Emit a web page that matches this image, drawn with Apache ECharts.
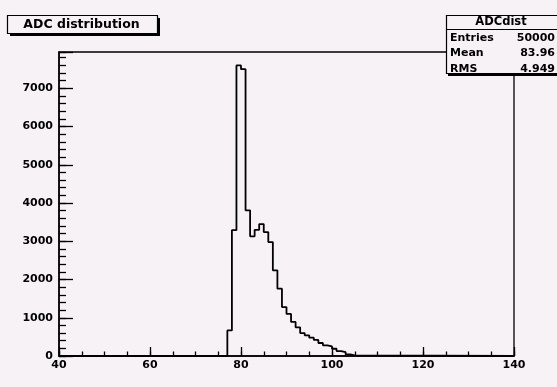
<!DOCTYPE html>
<html>
<head>
<meta charset="utf-8">
<script src="https://cdn.jsdelivr.net/npm/echarts@6/dist/echarts.min.js"></script>
<style>
html,body{margin:0;padding:0;background:#f6f2f6;}
#c{width:557px;height:387px;}
</style>
</head>
<body>
<div id="c"></div>
<script>
// Histogram "ADCdist": lower edges of non-empty bins (bin width 1) and counts
const binLow = [76, 77, 78, 79, 80, 81, 82, 83, 84, 85, 86, 87, 88, 89, 90, 91, 92, 93, 94, 95, 96, 97, 98, 99, 100, 101, 102, 103, 104];
const counts = [0, 670, 3290, 7600, 7500, 3810, 3130, 3300, 3450, 3240, 2980, 2240, 1760, 1280, 1100, 890, 750, 600, 540, 480, 420, 340, 280, 250, 190, 130, 100, 40, 15];
const binWidth = 1;
const xRange = [40, 140];
const yRange = [0, 7950];
const xTicks = [40, 60, 80, 100, 120, 140];
const yTicks = [0, 1000, 2000, 3000, 4000, 5000, 6000, 7000];
const titleText = 'ADC distribution';
const statsName = 'ADCdist';
const statsLabels = ['Entries', 'Mean', 'RMS'];
const statsValues = ['50000', '83.96', '4.949'];

const BG = '#f6f2f6';
const FONT = 'DejaVu Sans';

// step outline
const stepData = [[xRange[0], 0]];
for (let i = 0; i < binLow.length; i++) stepData.push([binLow[i], counts[i]]);
stepData.push([binLow[binLow.length - 1] + binWidth, 0]);
stepData.push([xRange[1], 0]);

const chart = echarts.init(document.getElementById('c'), null, {renderer: 'canvas'});

const labelStyle = {color: '#000', fontFamily: FONT, fontWeight: 'bold', fontSize: 11};

const graphic = [
  // title box shadow + box
  {type: 'rect', z: 100, shape: {x: 10, y: 18, width: 150, height: 18}, style: {fill: '#000'}},
  {type: 'rect', z: 101, shape: {x: 7.5, y: 15.5, width: 150, height: 18}, style: {fill: BG, stroke: '#000', lineWidth: 1.2}},
  {type: 'text', z: 102, x: 81.5, y: 25, style: {text: titleText, fill: '#000', font: 'bold 12.5px "DejaVu Sans"', align: 'center', verticalAlign: 'middle'}},
  // stats box shadow + box
  {type: 'rect', z: 100, shape: {x: 448, y: 17, width: 112, height: 59}, style: {fill: '#000'}},
  {type: 'rect', z: 101, shape: {x: 446.5, y: 15.5, width: 112, height: 58}, style: {fill: BG, stroke: '#000', lineWidth: 1.2}},
  {type: 'line', z: 102, shape: {x1: 446.5, y1: 29.5, x2: 557, y2: 29.5}, style: {stroke: '#000', lineWidth: 1.2}},
  {type: 'text', z: 102, x: 501, y: 22.5, style: {text: statsName, fill: '#000', font: 'bold 11.5px "DejaVu Sans"', align: 'center', verticalAlign: 'middle'}}
];
const rowY = [38, 53.5, 69];
for (let i = 0; i < statsLabels.length; i++) {
  graphic.push({type: 'text', z: 102, x: 450, y: rowY[i], style: {text: statsLabels[i], fill: '#000', font: 'bold 11px "DejaVu Sans"', align: 'left', verticalAlign: 'middle'}});
  graphic.push({type: 'text', z: 102, x: 555, y: rowY[i], style: {text: statsValues[i], fill: '#000', font: 'bold 11px "DejaVu Sans"', align: 'right', verticalAlign: 'middle'}});
}

chart.setOption({
  animation: false,
  backgroundColor: BG,
  textStyle: {fontFamily: FONT},
  grid: {left: 59, right: 43, top: 52, bottom: 31, show: true, borderColor: '#000', borderWidth: 1.3, backgroundColor: 'transparent', containLabel: false},
  xAxis: [
    {type: 'value', min: xRange[0], max: xRange[1], interval: 20, position: 'bottom',
     axisLine: {show: true, onZero: false, lineStyle: {color: '#000', width: 1.5}},
     axisTick: {show: true, inside: true, length: 9, lineStyle: {color: '#000', width: 1.3}},
     axisLabel: Object.assign({margin: 4, formatter: v => xTicks.includes(v) ? String(v) : ''}, labelStyle),
     splitLine: {show: false}},
    {type: 'value', min: xRange[0], max: xRange[1], interval: 5, position: 'bottom',
     axisLine: {show: false, onZero: false},
     axisTick: {show: true, inside: true, length: 4.5, lineStyle: {color: '#000', width: 1.3}},
     axisLabel: {show: false}, splitLine: {show: false}}
  ],
  yAxis: [
    {type: 'value', min: yRange[0], max: yRange[1], interval: 1000, position: 'left',
     axisLine: {show: true, onZero: false, lineStyle: {color: '#000', width: 1.5}},
     axisTick: {show: true, inside: true, length: 14, lineStyle: {color: '#000', width: 1.3}},
     axisLabel: Object.assign({margin: 6, formatter: v => yTicks.includes(v) ? String(v) : ''}, labelStyle),
     splitLine: {show: false}},
    {type: 'value', min: yRange[0], max: yRange[1], interval: 200, position: 'left',
     axisLine: {show: false, onZero: false},
     axisTick: {show: true, inside: true, length: 7, lineStyle: {color: '#000', width: 1.3}},
     axisLabel: {show: false}, splitLine: {show: false}}
  ],
  series: [{
    type: 'line', step: 'end', xAxisIndex: 0, yAxisIndex: 0,
    data: stepData, symbol: 'none', showSymbol: false,
    lineStyle: {color: '#000', width: 1.8}, z: 5
  }],
  graphic: graphic
});
</script>
</body>
</html>
